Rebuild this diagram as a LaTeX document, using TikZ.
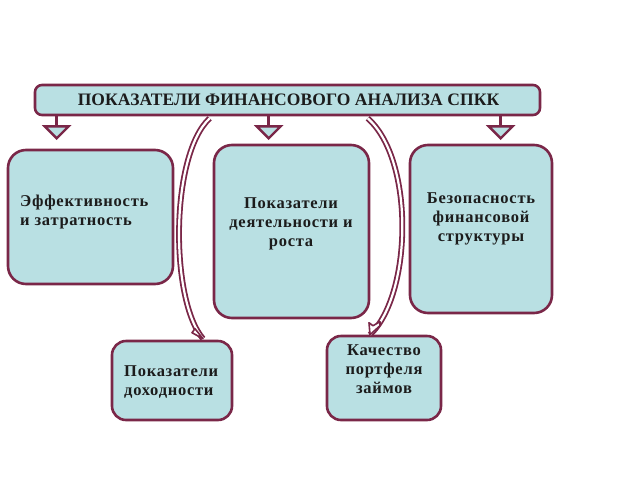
\documentclass[tikz,border=0pt]{standalone}
\usepackage{fontspec}
\setmainfont{Liberation Serif}
\usetikzlibrary{calc}
\definecolor{maroonc}{HTML}{7A2748}
\definecolor{boxfill}{HTML}{B9E0E3}
\definecolor{txt}{HTML}{1C1C1C}
\tikzset{
  box/.style={draw=maroonc, line width=2.6pt, fill=boxfill, rounded corners=18pt, inner sep=0pt},
  lbl/.style={font=\bfseries\fontsize{16.5}{19}\selectfont\addfontfeatures{LetterSpace=4.5}, text=txt, align=center, inner sep=0pt},
  downarr/.style={draw=maroonc, line width=2.4pt, fill=boxfill, line join=miter},
  stem/.style={draw=maroonc, line width=3pt},
  band/.style={draw=maroonc, line width=1.8pt, double=white, double distance=2.2pt},
  tipst/.style={draw=maroonc, line width=1.6pt, fill=white, line join=round}
}
\begin{document}
\begin{tikzpicture}[x=1pt,y=-1pt]
\useasboundingbox (0,0) rectangle (640,480);
% top bar
\node[box, rounded corners=7pt, minimum width=505pt, minimum height=30pt] (bar) at (287.5,100) {};
\node[lbl, font=\bfseries\fontsize{17.5}{20}\selectfont\addfontfeatures{LetterSpace=0.5}] (bart) at (288.5,100) {ПОКАЗАТЕЛИ ФИНАНСОВОГО АНАЛИЗА СПКК};
% boxes
\node[box, minimum width=165pt, minimum height=134pt] (b1) at (90.5,217) {};
\node[box, minimum width=155pt, minimum height=173pt] (b2) at (291.5,231.5) {};
\node[box, minimum width=142pt, minimum height=168pt] (b3) at (481,229) {};
\node[box, rounded corners=14pt, minimum width=120pt, minimum height=79pt] (b4) at (172,380.5) {};
\node[box, rounded corners=14pt, minimum width=114pt, minimum height=84pt] (b5) at (384,378) {};
% texts
\node[lbl, align=left, anchor=west] (t1) at (20,212) {Эффективность\\и затратность};
\node[lbl] (t2) at (291,224) {Показатели\\деятельности и\\роста};
\node[lbl] (t3) at (481,219) {Безопасность\\финансовой\\структуры};
\node[lbl, align=left, anchor=west] (t4) at (124,382) {Показатели\\доходности};
\node[lbl] (t5) at (384,369) {Качество\\портфеля\\займов};
% down arrows
\foreach \n/\x in {a/58, b/270, c/502}{
  \coordinate (\n top) at ($(bar.south west)+(\x-35,0)$);
  \coordinate (\n mid) at ($(\n top)+(0,10)$);
  \draw[stem] (\n top) -- (\n mid);
  \draw[downarr] ($(\n mid)+(-12,0)$) -- ($(\n mid)+(12,0)$) -- ($(\n mid)+(0,12)$) -- cycle;
}
% curved band connectors
\coordinate (lA) at ($(bar.south west)+(176,2)$);
\coordinate (lB) at ($(b4.north)+(31,-1)$);
\draw[band] (lA) .. controls (170,155) and (170,300) .. (lB);
\draw[tipst] (lB) -- ++(-11,-6) -- ++(3,-4) -- cycle;
\coordinate (rA) at ($(bar.south west)+(334,2)$);
\coordinate (rB) at ($(b5.north)+(-14,0)$);
\draw[band] (rA) .. controls (415,160) and (412,295) .. (rB);
\draw[tipst] (rB) -- ++(-1,-12) -- ++(4,3) -- ++(7,-4) -- ++(0,4) -- cycle;
\end{tikzpicture}
\end{document}
